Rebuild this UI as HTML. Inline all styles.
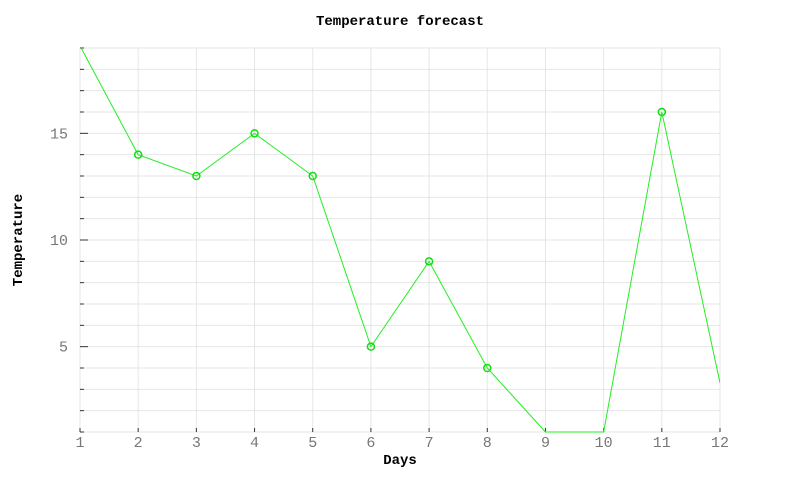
<!DOCTYPE html>
<html><head><meta charset="utf-8"><style>
body{margin:0;background:#fff}
svg text{font-family:"Liberation Mono","DejaVu Sans Mono",monospace}
</style></head><body>
<svg id="chart" width="800" height="480">
<text x="400" y="25" text-anchor="middle" font-size="14" font-weight="bold">Temperature forecast</text>
<text x="400" y="464" text-anchor="middle" font-size="14" font-weight="bold">Days</text>
<text transform="translate(22,240) rotate(-90)" text-anchor="middle" font-size="14" font-weight="bold">Temperature</text>
<g id="grid"></g><g id="axes"></g><g id="series"></g>
</svg>
<script>
const days=[1,2,3,4,5,6,7,8,9,10,11,12];
const temps=[19.1,14,13,15,13,5,9,4,1,1,16,3.3];
const yTicks=[5,10,15];
const yMin=1,yMax=19;
const L=80,R=720,T=48,B=432;
const sx=d=>L+(d-1)*(R-L)/(days.length-1);
const sy=v=>B-(v-yMin)*(B-T)/(yMax-yMin);
const NS="http://www.w3.org/2000/svg";
function mk(tag,attrs,parent){const e=document.createElementNS(NS,tag);for(const k in attrs)e.setAttribute(k,attrs[k]);parent.appendChild(e);return e;}
const grid=document.getElementById('grid'),axes=document.getElementById('axes'),series=document.getElementById('series');
for(let v=yMin;v<=yMax;v++){
 const g=mk('line',{x1:L,x2:R,y1:sy(v),y2:sy(v),stroke:'#e6e6e6','stroke-width':1},grid);
 
 
 const major=yTicks.includes(v);
 const t=mk('line',{x1:L,x2:L+(major?8:4),y1:sy(v),y2:sy(v),stroke:'#333','stroke-width':1},axes);
 
 
}
yTicks.forEach(v=>{
 const t=mk('text',{x:L-12,y:sy(v)+5,'text-anchor':'end','font-size':15,fill:'#777'},axes);
 t.textContent=v;
 
 
});
days.forEach(d=>{
 const g=mk('line',{x1:sx(d),x2:sx(d),y1:T,y2:B,stroke:'#e6e6e6','stroke-width':1},grid);
 
 
 const t=mk('line',{x1:sx(d),x2:sx(d),y1:B-4,y2:B,stroke:'#333','stroke-width':1},axes);
 
 
 const l=mk('text',{x:sx(d),y:B+15,'text-anchor':'middle','font-size':15,fill:'#777'},axes);
 l.textContent=d;
 
 
});
const defs=mk('defs',{},series);
const cp=mk('clipPath',{id:'clip'},defs);
mk('rect',{x:L,y:T-1,width:R-L,height:B-T+2},cp);
const pts=days.map((d,i)=>sx(d)+','+sy(temps[i])).join(' ');
const line=mk('polyline',{points:pts,fill:'none',stroke:'#22ee22','stroke-width':1,'clip-path':'url(#clip)'},series);


days.forEach((d,i)=>{
 const v=temps[i];
 if(v<=yMin+0.05||v>=yMax-0.05)return;
 if(i===0||i===days.length-1)return;
 const c=mk('circle',{cx:sx(d),cy:sy(v),r:3.5,fill:'none',stroke:'#11dd11','stroke-width':1.5},series);
 
 
});
</script>
</body></html>
